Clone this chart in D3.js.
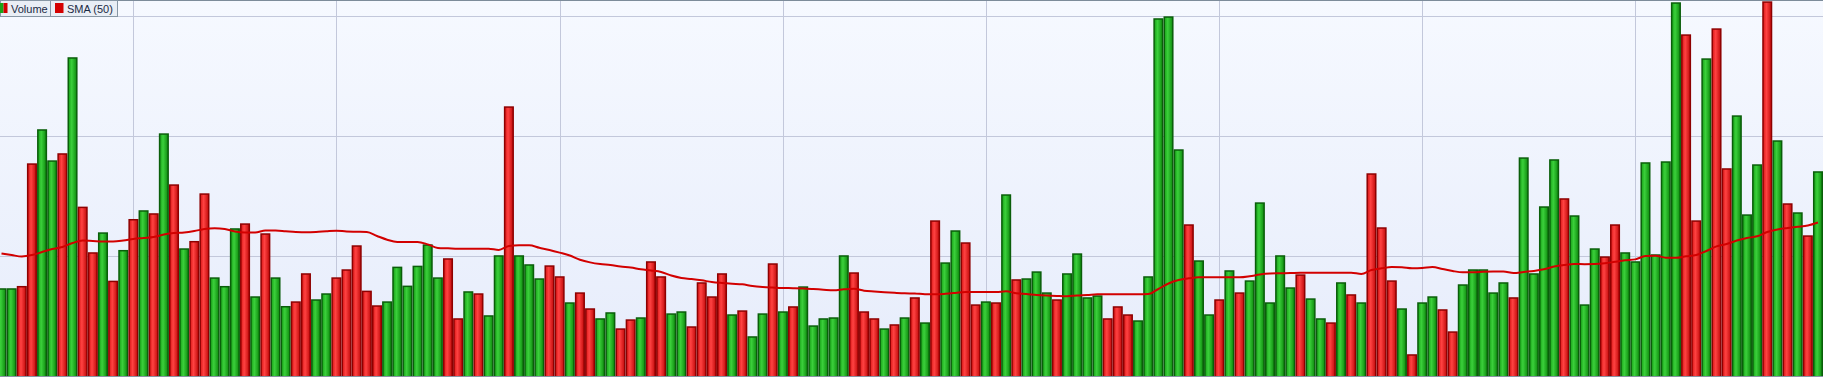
<!DOCTYPE html>
<html>
<head>
<meta charset="utf-8">
<script src="https://cdn.jsdelivr.net/npm/d3@7"></script>
<style>
  html, body { margin: 0; padding: 0; background: #fff; overflow: hidden; }
  svg { display: block; }
  .legend text { font: 11px "Liberation Sans", Arial, sans-serif; fill: #1b2a44; }
</style>
</head>
<body>
<svg id="chart"></svg>
<script>
/* ── Data ───────────────────────────────────────────────────────────────────── */
// volume per session, thousands
const volume = [
  731, 731, 750, 1772, 2056, 1797, 1856, 2656, 1411, 1031, 1197, 794, 1050, 1308, 1381,
  1356, 2022, 1597, 1064, 1125, 1522, 822, 750, 1231, 1272, 664, 1189, 822, 583, 622,
  856, 639, 689, 822, 889, 1089, 711, 589, 622, 911, 753, 919, 1097, 822, 981,
  481, 706, 689, 506, 1006, 2247, 1006, 931, 814, 922, 831, 614, 697, 564, 481,
  531, 397, 472, 489, 956, 831, 522, 539, 414, 781, 664, 856, 514, 547, 331,
  522, 939, 539, 581, 747, 422, 481, 489, 1006, 864, 539, 481, 397, 431, 489,
  656, 447, 1297, 947, 1214, 1114, 597, 622, 614, 1514, 806, 814, 872, 697, 639,
  856, 1022, 656, 672, 481, 581, 514, 464, 831, 2981, 2997, 1889, 1264, 964, 514,
  639, 881, 697, 797, 1447, 614, 1006, 739, 847, 647, 481, 447, 781, 681, 614,
  1689, 1239, 797, 564, 181, 614, 664, 556, 372, 764, 889, 889, 697, 781, 656,
  1822, 856, 1414, 1806, 1481, 1339, 597, 1064, 997, 1264, 1031, 956, 1781, 1014, 1789,
  3114, 2847, 1297, 2647, 2897, 1731, 2172, 1347, 1764, 3122, 1964, 1439, 1364, 1172, 1706
];

// session direction: "G" up, "R" down
const direction = (
  "GGRRGGRGRRGRGRG" + "RGRGRRGGGRGRGGR" + "RGGRRRRRGGGGGGR" + "RGRGGRGGGRRGRRG" +
  "GRRGRRGGRRRRGRG" + "GRGRGGGGGRRRGRG" + "RGRGGRRGRGRGGGR" + "GGGGRRRGGGGGRGG" +
  "RGRGGGGGRGGRGRG" + "RRRGRGGRRGGGGGR" + "GGGGRGGGRRGGGGG" + "GRRGRRGGGRGRGRG"
).split("");

// 50-period simple moving average of volume, thousands
const sma50 = [
  1021, 1008, 996, 1008, 1033, 1058, 1075, 1108, 1129, 1125, 1121, 1121, 1129, 1142, 1150,
  1158, 1179, 1192, 1196, 1208, 1225, 1231, 1225, 1204, 1196, 1196, 1212, 1212, 1206, 1200,
  1197, 1200, 1206, 1211, 1204, 1202, 1200, 1167, 1136, 1117, 1117, 1117, 1097, 1067, 1064,
  1061, 1061, 1061, 1061, 1050, 1083, 1089, 1089, 1069, 1050, 1028, 1004, 969, 947, 933,
  925, 912, 904, 889, 879, 867, 837, 817, 808, 797, 783, 775, 769, 764, 750,
  742, 737, 733, 732, 730, 725, 719, 714, 722, 727, 711, 704, 698, 693, 689,
  688, 681, 681, 685, 692, 700, 700, 700, 700, 706, 689, 683, 675, 670, 667,
  665, 671, 675, 681, 681, 681, 681, 681, 683, 725, 771, 800, 814, 822, 822,
  822, 822, 822, 831, 846, 854, 856, 858, 861, 861, 861, 861, 861, 861, 850,
  883, 897, 908, 906, 898, 900, 908, 892, 875, 864, 864, 869, 871, 871, 858,
  867, 875, 889, 912, 925, 933, 932, 933, 939, 952, 964, 972, 1000, 1003, 986,
  985, 997, 1008, 1042, 1080, 1100, 1129, 1150, 1164, 1200, 1221, 1233, 1243, 1254, 1279
];

// sessions that open a new month (vertical grid)
const monthStarts = [13, 33, 55, 77, 97, 120, 140, 161];
const yTicks = [1000, 2000, 3000];

const legendItems = ["Volume", "SMA (50)"];

/* ── Layout ─────────────────────────────────────────────────────────────────── */
const W = 1823, H = 377;
const PITCH = 10.148, FIRST = 1.5, BASE = 376;

const svg = d3.select("#chart").attr("width", W).attr("height", H);
const defs = svg.append("defs");

const bg = defs.append("linearGradient").attr("id", "bg")
  .attr("x1", 0).attr("y1", 0).attr("x2", 0).attr("y2", 1);
bg.append("stop").attr("offset", "0%").attr("stop-color", "#f6f9ff");
bg.append("stop").attr("offset", "100%").attr("stop-color", "#e6ecfb");

function barGradient(id, c0, c1, c2) {
  const g = defs.append("linearGradient").attr("id", id)
    .attr("x1", 0).attr("y1", 0).attr("x2", 1).attr("y2", 0);
  g.append("stop").attr("offset", "0%").attr("stop-color", c0);
  g.append("stop").attr("offset", "40%").attr("stop-color", c1);
  g.append("stop").attr("offset", "100%").attr("stop-color", c2);
}
barGradient("gUp", "#16a016", "#3bd03b", "#0d8a0d");
barGradient("gDown", "#d81515", "#ff4242", "#c10a0a");

const STYLE = {
  G: { fill: "url(#gUp)", stroke: "#0a5e0a" },
  R: { fill: "url(#gDown)", stroke: "#8e0000" },
};

/* ── Scales ─────────────────────────────────────────────────────────────────── */
const idx = d3.range(volume.length);
const x = d3.scaleBand()
  .domain(idx)
  .range([FIRST - PITCH / 2, FIRST - PITCH / 2 + PITCH * volume.length])
  .padding(0);
const cx = i => x(i) + x.bandwidth() / 2;

const y = d3.scaleLinear()
  .domain([0, 1000 * BASE / 120])
  .range([BASE, 0]);

/* ── Background & grid ──────────────────────────────────────────────────────── */
svg.append("rect").attr("width", W).attr("height", H).attr("fill", "url(#bg)");

svg.append("g").selectAll("line")
  .data(yTicks).join("line")
  .attr("x1", 0).attr("x2", W)
  .attr("y1", d => Math.round(y(d)) + 0.5).attr("y2", d => Math.round(y(d)) + 0.5)
  .attr("stroke", "#c3c8db").attr("stroke-width", 1);

svg.append("g").selectAll("line")
  .data(monthStarts).join("line")
  .attr("x1", d => Math.round(cx(d)) + 0.5).attr("x2", d => Math.round(cx(d)) + 0.5)
  .attr("y1", 0).attr("y2", BASE)
  .attr("stroke", "#c3c8db").attr("stroke-width", 1);

/* ── Bars ───────────────────────────────────────────────────────────────────── */
svg.append("g").selectAll("rect")
  .data(idx).join("rect")
  .attr("x", i => x(i) + 0.8)
  .attr("width", x.bandwidth() - 1.6)
  .attr("y", i => y(volume[i]) + 0.7)
  .attr("height", i => y(0) - y(volume[i]) + 2)
  .attr("fill", i => STYLE[direction[i]].fill)
  .attr("stroke", i => STYLE[direction[i]].stroke)
  .attr("stroke-width", 1.5);

/* ── SMA line ───────────────────────────────────────────────────────────────── */
const line = d3.line()
  .x(i => cx(i))
  .y(i => y(sma50[i]))
  .curve(d3.curveMonotoneX);

svg.append("path")
  .datum(idx)
  .attr("d", line)
  .attr("fill", "none")
  .attr("stroke", "#d20000")
  .attr("stroke-width", 2)
  .attr("stroke-linejoin", "round");

/* ── Frame ──────────────────────────────────────────────────────────────────── */
svg.append("line").attr("x1", 0).attr("x2", W).attr("y1", 0.5).attr("y2", 0.5)
  .attr("stroke", "#7d8c9a");
svg.append("line").attr("x1", 0).attr("x2", W).attr("y1", H - 0.5).attr("y2", H - 0.5)
  .attr("stroke", "#8893a3");

/* ── Legend ─────────────────────────────────────────────────────────────────── */
const legend = svg.append("g").attr("class", "legend");
const cells = [{ x: 0, w: 50 }, { x: 50, w: 67 }];

legend.selectAll("rect.cell")
  .data(cells).join("rect")
  .attr("class", "cell")
  .attr("x", d => d.x + 0.5).attr("y", 0.5)
  .attr("width", d => d.w).attr("height", 16)
  .attr("fill", "#e9eef5").attr("stroke", "#8796a4");

// Volume icon: half up / half down
legend.append("rect").attr("x", 0).attr("y", 3).attr("width", 3.5).attr("height", 10).attr("fill", "#1aa51a");
legend.append("rect").attr("x", 3.5).attr("y", 3).attr("width", 4).attr("height", 10).attr("fill", "#d40000");
// SMA icon
legend.append("rect").attr("x", 55).attr("y", 3).attr("width", 8.5).attr("height", 10).attr("fill", "#d40000");

legend.selectAll("text")
  .data(legendItems).join("text")
  .attr("x", (d, i) => i === 0 ? 11 : 67)
  .attr("y", 12.5)
  .text(d => d);
</script>
</body>
</html>
